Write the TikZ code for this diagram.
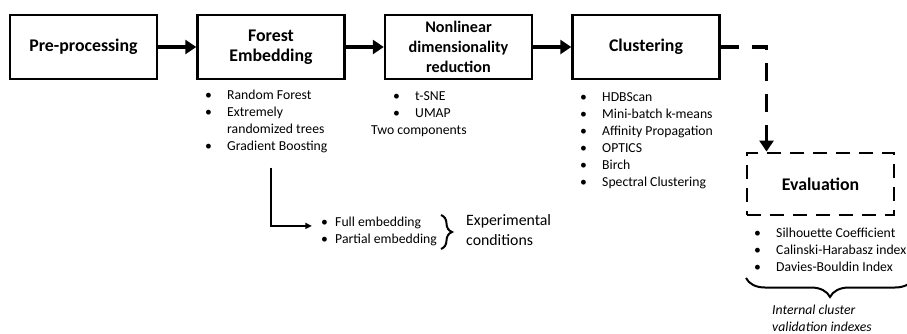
\documentclass[tikz,border=0pt]{standalone}
\usepackage{fontspec}
\setmainfont{Carlito}
\usetikzlibrary{arrows.meta,decorations.pathreplacing,calc}

\newlength{\itmw}\setlength{\itmw}{0.66cm}
\newcommand{\itm}{\makebox[\itmw][l]{\textbullet}}

\tikzset{
  stage/.style={draw, line width=2.1pt, fill=white, minimum width=4.41cm, minimum height=1.92cm,
    align=center, inner sep=0pt, font=\bfseries\fontsize{15.2}{17}\selectfont},
  items/.style={anchor=base west, align=left, inner sep=0pt, font=\fontsize{11.7}{14.5}\selectfont},
  flow/.style={line width=2.6pt, -{Triangle[length=0.33cm, width=0.42cm]}},
  side/.style={line width=1.4pt, -{Triangle[length=0.2cm, width=0.18cm]}},
  curly/.style={line width=1.7pt, decorate},
}

\begin{document}
\begin{tikzpicture}[x=0.03cm, y=-0.03cm]
\useasboundingbox (0,0) rectangle (907,333);
% stages
\node[stage] (pre) at (83.5,47) {Pre-processing};
\node[stage] (forest) at (271,47) {Forest\\Embedding};
\node[stage, font=\bfseries\fontsize{13.8}{17}\selectfont] (nld) at (458.5,47) {Nonlinear\\dimensionality\\reduction};
\node[stage] (clus) at (646,47) {Clustering};
\node[stage, line width=2.5pt, dash pattern=on 0.42cm off 0.27cm, minimum height=1.86cm] (eval) at (820.5,184) {Evaluation};
% arrows
\draw[flow] (pre) -- (forest);
\draw[flow] (forest) -- (nld);
\draw[flow] (nld) -- (clus);
\draw[flow, line width=3.2pt, dash pattern=on 0.54cm off 0.39cm] (clus.east) -| ($(eval.north west)+(21,0)$);
% methods under each stage (anchored at the last line)
\node[items] (flist) at (205,150) {\itm Random Forest\\\itm Extremely\\\hspace*{\itmw}randomized trees\\\itm Gradient Boosting};
\node[items] (nlist) at (371,134) {\hspace*{\itmw}\itm t-SNE\\\hspace*{\itmw}\itm UMAP\\Two components};
\node[items] (clist) at (580,186) {\itm HDBScan\\\itm Mini-batch k-means\\\itm Affinity Propagation\\\itm OPTICS\\\itm Birch\\\itm Spectral Clustering};
\node[items] (elist) at (754,271) {\itm Silhouette Coefficient\\\itm Calinski-Harabasz index\\\itm Davies-Bouldin Index};
% experimental conditions
\node[items] (emb) at (321,243) {\makebox[0.42cm][l]{\textbullet}Full embedding\\\makebox[0.42cm][l]{\textbullet}Partial embedding};
\draw[side] ([yshift=-0.45cm]flist.south -| forest.south) |- ([xshift=-0.27cm, yshift=0.15cm]emb.west);
\draw[curly, decoration={brace, amplitude=0.33cm}] (441,215) -- (441,249);
\node[items, font=\fontsize{13.5}{17}\selectfont] (cond) at (466,245) {Experimental\\conditions};
% validation indexes
\draw[curly, decoration={brace, amplitude=0.57cm, mirror}] (746,278) -- (914,278);
\node[items, font=\itshape\fontsize{11.7}{14.5}\selectfont] (icv) at (772,331) {Internal cluster\\validation indexes};
\end{tikzpicture}
\end{document}
